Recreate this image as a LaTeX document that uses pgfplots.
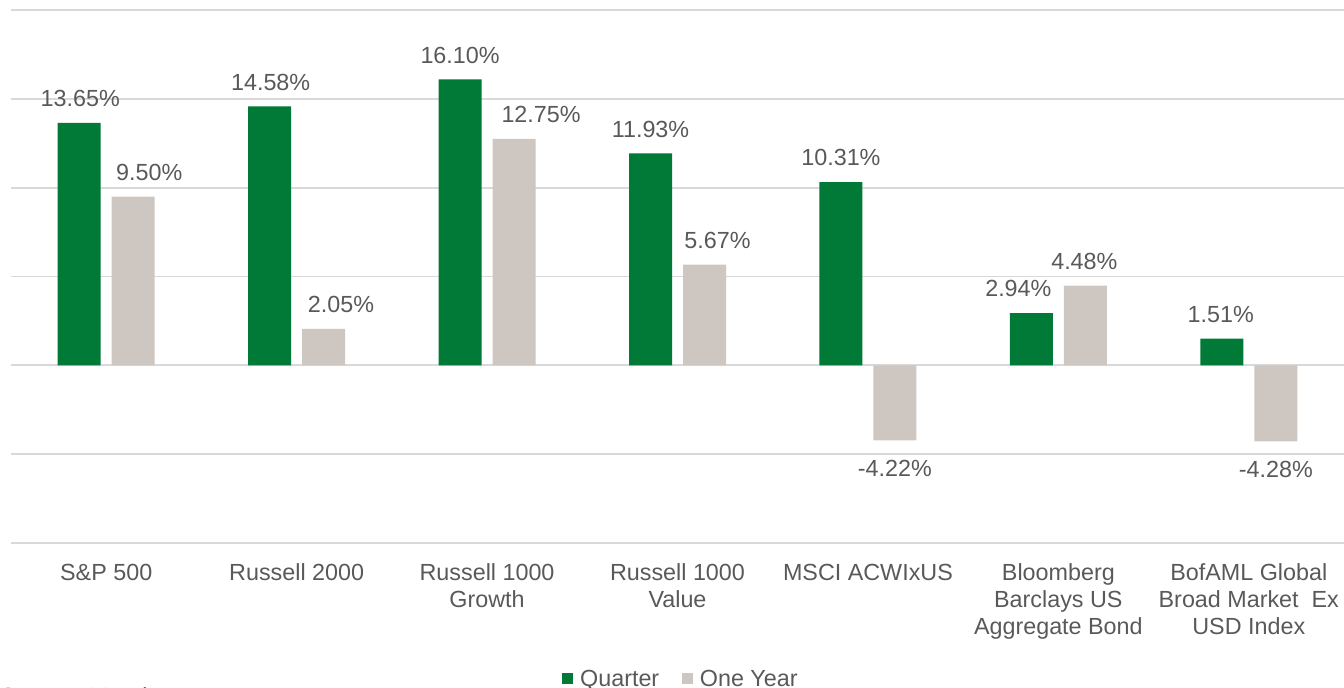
\documentclass[border=0pt]{standalone}
\usepackage{pgfplots}
\pgfplotsset{compat=1.18}
\usepackage{fontspec}
\setmainfont{Liberation Sans}

\definecolor{qgreen}{RGB}{0,122,54}
\definecolor{ygray}{RGB}{206,198,192}
\definecolor{txt}{RGB}{89,89,89}
\definecolor{grd}{RGB}{217,217,217}
\newcommand\lf{\fontsize{17.5pt}{20.25pt}\selectfont}

% returns, with label offsets (pt)
\pgfplotstableread{
x y dx dy
0 13.65 0.75 12
1 14.58 0.75 12
2 16.10 0 12
3 11.93 0 12
4 10.31 0 12
5 2.94 -9.75 12
6 1.51 -0.75 12
}\quarter
\pgfplotstableread{
x y dx dy
0 9.50 12 12
1 2.05 13 12
2 12.75 20.25 12
3 5.67 9.75 12
4 -4.22 0 -27
5 4.48 -0.75 12
6 -4.28 0 -27
}\oneyear

\begin{document}
\begin{tikzpicture}
\useasboundingbox (-8.25pt,-108pt) rectangle (999.75pt,407.25pt);
\begin{axis}[
at={(0,0)}, anchor=south west,
scale only axis, width=999.75pt, height=399.75pt,
xmin=-0.5, xmax=6.5, ymin=-10, ymax=20,
ybar=8.25pt, bar width=32.25pt,
axis line style={draw=none}, tick style={draw=none},
ytick={-10,-5,...,20}, yticklabels={},
ymajorgrids, grid style={grd, line width=1.3pt},
xtick={0,...,6},
xticklabels={S\&P 500, Russell 2000, Russell 1000\\Growth, Russell 1000\\Value, MSCI ACWIxUS, Bloomberg\\Barclays US\\Aggregate Bond, BofAML Global\\Broad Market\ \ Ex\\USD Index},
xticklabel style={align=center, anchor=north, yshift=-11.25pt, inner sep=0pt, font=\lf, text=txt},
point meta=explicit symbolic,
nodes near coords={\pgfplotspointmeta\%},
visualization depends on={\thisrow{dx} \as \dx},
visualization depends on={\thisrow{dy} \as \dy},
every node near coord/.append style={anchor=south, xshift=\dx, yshift=\dy, inner sep=0pt, text height=12.5pt, text depth=0pt, font=\lf, text=txt},
sq/.style={legend image code/.code={\fill[##1] (0pt,-4.125pt) rectangle (8.25pt,4.125pt);}},
legend columns=2,
legend style={at={(axis description cs:0.5,0)}, anchor=north, yshift=-95.25pt, xshift=1.8pt,
  draw=none, fill=none, inner sep=0pt, column sep=5.25pt,
  /tikz/every even column/.append style={column sep=17pt},
  nodes={inner sep=0pt, text height=12.5pt, text depth=0pt, font=\lf, text=txt},
  cells={anchor=west}},
]
\addplot[fill=qgreen, draw=none, sq] table[x=x, y=y, meta=y] {\quarter};
\addplot[fill=ygray, draw=none, sq] table[x=x, y=y, meta=y] {\oneyear};
\legend{Quarter, One Year}
\end{axis}
\node[anchor=base west, inner sep=0pt, font=\lf, text=txt] at (-8.25pt,-120.75pt) {Source: Morningstar};
\end{tikzpicture}
\end{document}
